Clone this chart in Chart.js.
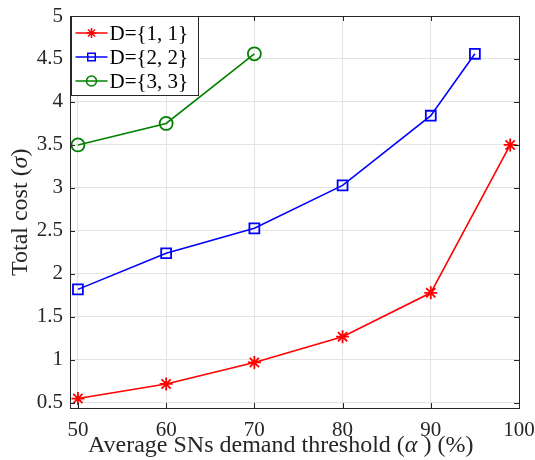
<!DOCTYPE html>
<html>
<head>
<meta charset="utf-8">
<script src="https://cdn.jsdelivr.net/npm/chart.js@4.4.1/dist/chart.umd.min.js"></script>
<style>
  body { margin: 0; background: #fff; }
  #wrap { width: 535px; height: 460px; }
</style>
</head>
<body>
<div id="wrap"><canvas id="chart"></canvas></div>
<script>
const seriesNames = ["D={1, 1}", "D={2, 2}", "D={3, 3}"];
const xRed = [50, 60, 70, 80, 90, 99];
const yRed = [0.55, 0.72, 0.97, 1.27, 1.78, 3.5];
const xBlue = [50, 60, 70, 80, 90, 95];
const yBlue = [1.82, 2.24, 2.53, 3.03, 3.84, 4.56];
const xGreen = [50, 60, 70];
const yGreen = [3.5, 3.75, 4.56];
const xTicks = [50, 60, 70, 80, 90, 100];
const yTicks = [0.5, 1, 1.5, 2, 2.5, 3, 3.5, 4, 4.5, 5];

const serif = "Liberation Serif, DejaVu Serif, serif";
Chart.defaults.font.family = serif;
Chart.defaults.font.size = 21;
Chart.defaults.color = "#262626";

const toPoints = (xs, ys) => xs.map((x, i) => ({ x: x, y: ys[i] }));

// marker drawing, used for the legend
function marker(ctx, style, x, y, r, color) {
  ctx.save();
  ctx.strokeStyle = color;
  ctx.lineWidth = 1.5;
  ctx.beginPath();
  if (style === "star") {
    for (let k = 0; k < 4; k++) {
      const a = k * Math.PI / 4;
      ctx.moveTo(x - r * Math.cos(a), y - r * Math.sin(a));
      ctx.lineTo(x + r * Math.cos(a), y + r * Math.sin(a));
    }
  } else if (style === "rect") {
    ctx.rect(x - r * 0.75, y - r * 0.75, r * 1.5, r * 1.5);
  } else {
    ctx.arc(x, y, r, 0, Math.PI * 2);
  }
  ctx.stroke();
  ctx.restore();
}

// axis titles, box, inner ticks and legend like a matlab figure
const matlabLook = {
  id: "matlabLook",
  afterDraw(chart) {
    const ctx = chart.ctx;
    const a = chart.chartArea;
    const xs = chart.scales.x;
    const ys = chart.scales.y;

    ctx.save();
    ctx.strokeStyle = "#262626";
    ctx.lineWidth = 1;
    ctx.beginPath();
    xTicks.forEach(v => {
      const px = Math.round(xs.getPixelForValue(v)) + 0.5;
      ctx.moveTo(px, a.bottom); ctx.lineTo(px, a.bottom - 5);
      ctx.moveTo(px, a.top); ctx.lineTo(px, a.top + 5);
    });
    yTicks.forEach(v => {
      const py = Math.round(ys.getPixelForValue(v)) + 0.5;
      ctx.moveTo(a.left, py); ctx.lineTo(a.left + 5, py);
      ctx.moveTo(a.right, py); ctx.lineTo(a.right - 5, py);
    });
    ctx.stroke();
    ctx.strokeRect(Math.round(a.left) + 0.5, Math.round(a.top) + 0.5,
      Math.round(a.right - a.left), Math.round(a.bottom - a.top));

    // legend
    const lx = Math.round(a.left) + 1.5, ly = Math.round(a.top) + 0.5;
    const lw = 127, lh = 79;
    ctx.fillStyle = "#fff";
    ctx.fillRect(lx, ly, lw, lh);
    ctx.strokeStyle = "#262626";
    ctx.strokeRect(lx, ly, lw, lh);
    ctx.font = "21px " + serif;
    ctx.textBaseline = "middle";
    ctx.textAlign = "left";
    chart.data.datasets.forEach((ds, i) => {
      const yy = ly + 16.5 + i * 24;
      ctx.strokeStyle = ds.borderColor;
      ctx.lineWidth = 1.5;
      ctx.beginPath();
      ctx.moveTo(lx + 4, yy); ctx.lineTo(lx + 36, yy);
      ctx.stroke();
      marker(ctx, ds.pointStyle, lx + 20, yy, 5, ds.borderColor);
      ctx.fillStyle = "#000";
      ctx.fillText(ds.label, lx + 38, yy + 1);
    });

    // axis titles with italic greek letters, left aligned from a start point
    const drawParts = (parts, sx, sy, rot) => {
      ctx.save();
      ctx.translate(sx, sy);
      ctx.rotate(rot);
      ctx.fillStyle = "#262626";
      ctx.textBaseline = "alphabetic";
      ctx.textAlign = "left";
      let x = 0;
      parts.forEach(p => {
        ctx.font = p[1] + " 24px " + serif;
        ctx.fillText(p[0], x, 0);
        x += ctx.measureText(p[0]).width;
      });
      ctx.restore();
    };
    drawParts([["Average SNs demand threshold (", "normal"], ["\u03b1", "italic"], [" ) (%)", "normal"]],
      88, 452, 0);
    drawParts([["Total cost (", "normal"], ["\u03c3", "italic"], [")", "normal"]],
      27, 276, -Math.PI / 2);
    ctx.restore();
  }
};

new Chart(document.getElementById("chart"), {
  type: "line",
  data: {
    datasets: [
      {
        label: seriesNames[0],
        data: toPoints(xRed, yRed),
        borderColor: "#ff0000",
        pointStyle: "star",
        pointRadius: 6.5,
      },
      {
        label: seriesNames[1],
        data: toPoints(xBlue, yBlue),
        borderColor: "#0000ff",
        pointStyle: "rect",
        pointRadius: 7,
      },
      {
        label: seriesNames[2],
        data: toPoints(xGreen, yGreen),
        borderColor: "#008000",
        pointStyle: "circle",
        pointRadius: 6.5,
      },
    ],
  },
  options: {
    responsive: true,
    maintainAspectRatio: false,
    animation: false,
    elements: {
      line: { borderWidth: 1.6, tension: 0, fill: false },
      point: { backgroundColor: "rgba(0,0,0,0)", borderWidth: 1.8, hoverRadius: 6 },
    },
    layout: { padding: { left: 0, top: 16, right: 16, bottom: 0 } },
    plugins: {
      legend: { display: false },
      tooltip: { enabled: false },
    },
    scales: {
      x: {
        type: "linear",
        min: 49.1,
        max: 100,
        afterBuildTicks: (s) => { s.ticks = xTicks.map(v => ({ value: v })); },
        afterFit: (s) => { s.height = 52; s.paddingLeft = 0; s.paddingRight = 0; },
        grid: { color: "#e3e3e3", drawTicks: false },
        border: { display: false },
        ticks: {
          color: "#262626",
          font: { family: serif, size: 21 },
          padding: 10,
          maxRotation: 0,
          callback: (v) => String(v),
        },
      },
      y: {
        min: 0.44,
        max: 5,
        afterBuildTicks: (s) => { s.ticks = yTicks.map(v => ({ value: v })); },
        afterFit: (s) => { s.width = 70; s.paddingTop = 0; s.paddingBottom = 0; },
        grid: { color: "#e3e3e3", drawTicks: false },
        border: { display: false },
        ticks: {
          color: "#262626",
          font: { family: serif, size: 21 },
          padding: 7,
          callback: (v) => String(v),
        },
      },
    },
  },
  plugins: [matlabLook],
});
</script>
</body>
</html>
